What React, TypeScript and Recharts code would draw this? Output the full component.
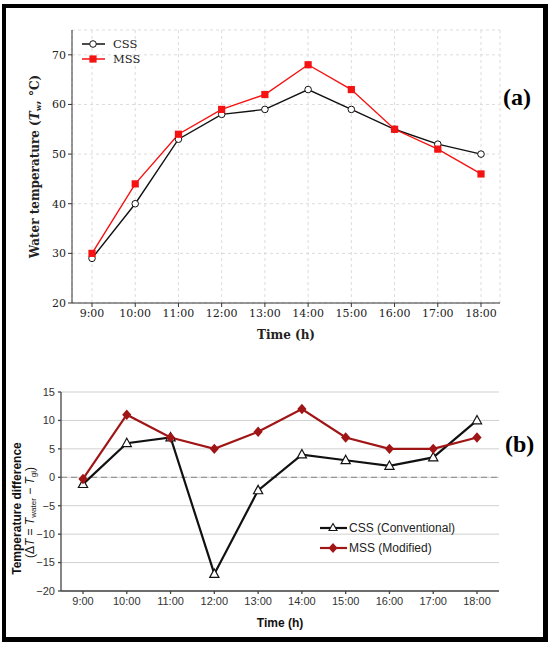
import React from 'react'
import { LineChart, Line, XAxis, YAxis, CartesianGrid, ReferenceLine, Legend } from 'recharts'

const hours = ['9:00', '10:00', '11:00', '12:00', '13:00', '14:00', '15:00', '16:00', '17:00', '18:00']

// (a) water temperature, °C
const cssWater = [29, 40, 53, 58, 59, 63, 59, 55, 52, 50]
const mssWater = [30, 44, 54, 59, 62, 68, 63, 55, 51, 46]
const waterTicks = [20, 30, 40, 50, 60, 70]

// (b) temperature difference, °C
const cssDiff = [-1.2, 6, 7, -17, -2.3, 4, 3, 2, 3.5, 10]
const mssDiff = [-0.3, 11, 7, 5, 8, 12, 7, 5, 5, 7]
const diffTicks = [-20, -15, -10, -5, 0, 5, 10, 15]

const waterData = hours.map((time, i) => ({ time, css: cssWater[i], mss: mssWater[i] }))
const diffData = hours.map((time, i) => ({ time, css: cssDiff[i], mss: mssDiff[i] }))

const SERIF = '"DejaVu Serif", serif'
const SANS = '"Liberation Sans", Arial, sans-serif'
const RED = '#f41212'
const DARK_RED = '#a01515'

const CircleDot = (p: any) => (
    <circle key={`c${p.index}`} cx={p.cx} cy={p.cy} r={3.3} fill="#fff" stroke="#111" strokeWidth={1} />
)
const SquareDot = (p: any) => (
    <rect key={`s${p.index}`} x={p.cx - 3.6} y={p.cy - 3.6} width={7.2} height={7.2} fill={RED} />
)
const TriangleDot = (p: any) => (
    <path
        key={`t${p.index}`}
        d={`M${p.cx},${p.cy - 5} L${p.cx + 4.6},${p.cy + 3.4} L${p.cx - 4.6},${p.cy + 3.4} Z`}
        fill="#fff"
        stroke="#111"
        strokeWidth={1.2}
    />
)
const DiamondDot = (p: any) => (
    <path
        key={`d${p.index}`}
        d={`M${p.cx},${p.cy - 5.2} L${p.cx + 4.6},${p.cy} L${p.cx},${p.cy + 5.2} L${p.cx - 4.6},${p.cy} Z`}
        fill={DARK_RED}
    />
)

const WaterLegend = ({ payload }: any) => (
    <div style={{ fontFamily: SERIF, fontSize: 11.5, color: '#222' }}>
        {(payload || []).map((e: any) => (
            <div key={e.value} style={{ display: 'flex', alignItems: 'center', height: 15 }}>
                <svg width={24} height={10} style={{ marginRight: 7 }}>
                    <line x1={0} y1={5} x2={23} y2={5} stroke={e.color} strokeWidth={1.5} />
                    {e.dataKey === 'css'
                        ? <circle cx={11} cy={5} r={3.3} fill="#fff" stroke="#111" strokeWidth={1} />
                        : <rect x={7.4} y={1.4} width={7.2} height={7.2} fill={RED} />}
                </svg>
                <span>{e.value}</span>
            </div>
        ))}
    </div>
)

const DiffLegend = ({ payload }: any) => (
    <div style={{ fontFamily: SANS, fontSize: 12, color: '#222' }}>
        {(payload || []).map((e: any) => (
            <div key={e.value} style={{ display: 'flex', alignItems: 'center', height: 20 }}>
                <svg width={28} height={12} style={{ marginRight: 1 }}>
                    <line x1={0} y1={6} x2={27} y2={6} stroke={e.color} strokeWidth={2.2} />
                    {e.dataKey === 'css'
                        ? <path d="M13,1.5 L17,8.5 L9,8.5 Z" fill="#fff" stroke="#111" strokeWidth={1.1} />
                        : <path d="M13,1 L17.5,6 L13,11 L8.5,6 Z" fill={DARK_RED} />}
                </svg>
                <span>{e.value}</span>
            </div>
        ))}
    </div>
)

const WaterYLabel = ({ viewBox }: any) => {
    const cx = (viewBox?.x ?? 0) + 35
    const cy = (viewBox?.y ?? 30) + (viewBox?.height ?? 273) / 2
    return (
        <text
            x={cx}
            y={cy}
            transform={`rotate(-90 ${cx} ${cy})`}
            textAnchor="middle"
            dominantBaseline="central"
            fontFamily={SERIF}
            fontWeight="bold"
            fontSize={12}
            fill="#222"
        >
            Water temperature (<tspan fontStyle="italic">T</tspan>
            <tspan fontSize={8} dy={3}>w</tspan>
            <tspan dy={-3}>, °C)</tspan>
        </text>
    )
}

const DiffYLabel = ({ viewBox }: any) => {
    const x0 = viewBox?.x ?? 0
    const cy = (viewBox?.y ?? 32) + (viewBox?.height ?? 199) / 2 + 17
    const x1 = x0 + 17
    const x2 = x0 + 30
    return (
        <g fontFamily={SANS} fill="#111">
            <text
                x={x1}
                y={cy}
                transform={`rotate(-90 ${x1} ${cy})`}
                textAnchor="middle"
                dominantBaseline="central"
                fontWeight="bold"
                fontSize={12}
            >
                Temperature difference
            </text>
            <text
                x={x2}
                y={cy + 4}
                transform={`rotate(-90 ${x2} ${cy + 4})`}
                textAnchor="middle"
                dominantBaseline="central"
                fontSize={12}
            >
                (Δ<tspan fontStyle="italic">T</tspan> = <tspan fontStyle="italic">T</tspan>
                <tspan fontSize={8} dy={3}>water</tspan>
                <tspan dy={-3}> − </tspan>
                <tspan fontStyle="italic">T</tspan>
                <tspan fontSize={8} dy={3}>gi</tspan>
                <tspan dy={-3}>)</tspan>
            </text>
        </g>
    )
}

const minus = (v: number) => (v < 0 ? `\u2212${Math.abs(v)}` : `${v}`)

export default function App() {
    return (
        <div style={{ position: 'relative', width: 550, height: 646, background: '#fff', overflow: 'hidden' }}>
            <style>{`body{margin:0}`}</style>
            <div
                style={{
                    position: 'absolute',
                    left: 2,
                    top: 4,
                    width: 537,
                    height: 629,
                    border: '4px solid #000',
                    borderRightWidth: 5,
                    borderBottomWidth: 5,
                }}
            />

            <div style={{ position: 'absolute', left: 0, top: 0 }}>
                <LineChart width={550} height={360} data={waterData} margin={{ top: 30, right: 50, bottom: 0, left: 0 }}>
                    <CartesianGrid stroke="#dcdcdc" strokeDasharray="3 3" />
                    <XAxis
                        dataKey="time"
                        padding={{ left: 20, right: 19 }}
                        height={57}
                        stroke="#333"
                        tickSize={4}
                        tick={{ fontFamily: SERIF, fontSize: 11, fill: '#222' }}
                        label={{ value: 'Time (h)', position: 'insideBottom', offset: 21, fontFamily: SERIF, fontWeight: 'bold', fontSize: 12, fill: '#222' }}
                    />
                    <XAxis xAxisId="top" dataKey="time" orientation="top" height={0} tick={false} tickLine={false} stroke="#333" />
                    <YAxis
                        domain={[20, 75]}
                        ticks={waterTicks}
                        width={72}
                        stroke="#333"
                        tickSize={4}
                        tick={{ fontFamily: SERIF, fontSize: 11, fill: '#222' }}
                        label={{ content: WaterYLabel }}
                    />
                    <YAxis yAxisId="right" orientation="right" domain={[20, 75]} width={0} tick={false} tickLine={false} stroke="#333" />
                    <Legend
                        layout="vertical"
                        align="center"
                        verticalAlign="middle"
                        content={WaterLegend}
                        wrapperStyle={{ left: 82, top: 36, width: 80 }}
                    />
                    <Line
                        dataKey="css"
                        name="CSS"
                        stroke="#111"
                        strokeWidth={1.4}
                        dot={CircleDot}
                        isAnimationActive={false}
                    />
                    <Line
                        dataKey="mss"
                        name="MSS"
                        stroke={RED}
                        strokeWidth={1.4}
                        dot={SquareDot}
                        isAnimationActive={false}
                    />
                </LineChart>
            </div>

            <div style={{ position: 'absolute', left: 503, top: 84, fontFamily: '"Liberation Serif", serif', fontWeight: 'bold', fontSize: 24 }}>
                (a)
            </div>

            <div style={{ position: 'absolute', left: 0, top: 360 }}>
                <LineChart width={550} height={286} data={diffData} margin={{ top: 32, right: 51, bottom: 0, left: 0 }}>
                    <CartesianGrid stroke="#d0d0d0" vertical={false} />
                    <ReferenceLine y={0} stroke="#999" strokeDasharray="6 4" strokeWidth={1.2} />
                    <XAxis
                        dataKey="time"
                        padding={{ left: 22, right: 22 }}
                        height={55}
                        stroke="#444"
                        strokeWidth={1.3}
                        tickSize={3}
                        tickMargin={3}
                        tick={{ fontFamily: SANS, fontSize: 11, fill: '#333' }}
                        label={{ value: 'Time (h)', position: 'insideBottom', offset: 19, fontFamily: SANS, fontWeight: 'bold', fontSize: 12, fill: '#111' }}
                    />
                    <XAxis xAxisId="top" dataKey="time" orientation="top" height={0} tick={false} tickLine={false} stroke="#444" strokeWidth={1.3} />
                    <YAxis
                        domain={[-20, 15]}
                        ticks={diffTicks}
                        width={61}
                        stroke="#444"
                        strokeWidth={1.3}
                        tickSize={3}
                        tickMargin={3}
                        tickFormatter={minus}
                        tick={{ fontFamily: SANS, fontSize: 11, fill: '#333' }}
                        label={{ content: DiffYLabel }}
                    />
                    <YAxis yAxisId="right" orientation="right" domain={[-20, 15]} width={0} tick={false} tickLine={false} stroke="#444" strokeWidth={1.3} />
                    <Legend
                        layout="vertical"
                        align="center"
                        verticalAlign="middle"
                        content={DiffLegend}
                        wrapperStyle={{ left: 320, top: 158, width: 170 }}
                    />
                    <Line
                        dataKey="css"
                        name="CSS (Conventional)"
                        stroke="#111"
                        strokeWidth={2.2}
                        dot={TriangleDot}
                        isAnimationActive={false}
                    />
                    <Line
                        dataKey="mss"
                        name="MSS (Modified)"
                        stroke={DARK_RED}
                        strokeWidth={2.2}
                        dot={DiamondDot}
                        isAnimationActive={false}
                    />
                </LineChart>
            </div>

            <div style={{ position: 'absolute', left: 505, top: 431, fontFamily: '"Liberation Serif", serif', fontWeight: 'bold', fontSize: 24 }}>
                (b)
            </div>
        </div>
    )
}
